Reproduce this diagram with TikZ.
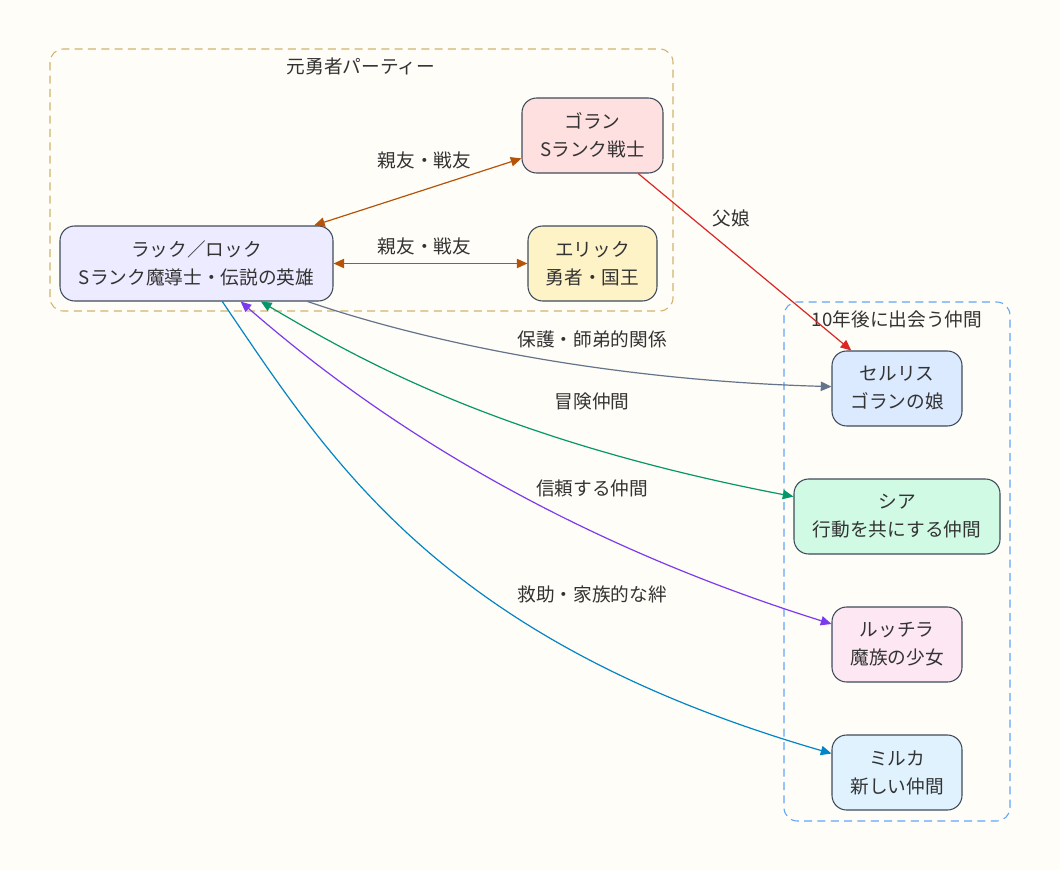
\documentclass[tikz,border=0pt]{standalone}
\usepackage{fontspec}
\setmainfont{Noto Sans CJK JP}
\usetikzlibrary{arrows.meta}
\definecolor{bg}{HTML}{FFFDF7}
\definecolor{nodeline}{HTML}{3F4B5B}
\definecolor{txt}{HTML}{333333}
\definecolor{cbrown}{HTML}{B45309}
\definecolor{cred}{HTML}{DC2626}
\definecolor{cslate}{HTML}{64748B}
\definecolor{cgreen}{HTML}{059669}
\definecolor{cpurple}{HTML}{7C3AED}
\definecolor{cblue}{HTML}{0284C7}
\definecolor{partyline}{HTML}{D2B26E}
\definecolor{futureline}{HTML}{60A5FA}
\definecolor{frack}{HTML}{ECEBFF}
\definecolor{fgoran}{HTML}{FFE0E1}
\definecolor{feric}{HTML}{FEF3C7}
\definecolor{fcellis}{HTML}{DBEAFE}
\definecolor{fsia}{HTML}{D1FAE5}
\definecolor{fruc}{HTML}{FCE7F3}
\definecolor{fmilka}{HTML}{E0F2FE}
\tikzset{
  person/.style={draw=nodeline, line width=0.8pt, rounded corners=11pt, align=center,
    minimum height=56.25pt, text=txt, font=\fontsize{14}{21}\selectfont, inner sep=0pt},
  cluster/.style={line width=0.8pt, dash pattern=on 6pt off 4pt, rounded corners=10pt},
  clabel/.style={text=txt, font=\fontsize{14}{21}\selectfont},
  elabel/.style={text=txt, font=\fontsize{14}{21}\selectfont},
  tip/.style={-{Triangle[length=8pt,width=7pt]}},
  bitip/.style={{Triangle[length=8pt,width=7pt]}-{Triangle[length=8pt,width=7pt]}},
  edge/.style={line width=0.9pt}
}
\begin{document}
\begin{tikzpicture}[x=0.75pt,y=-0.75pt]
\fill[bg] (0,0) rectangle (1060,870);
\useasboundingbox (0,0) rectangle (1060,870);
% clusters
\draw[cluster, draw=partyline] (50,49) rectangle (673,311);
\node[clabel] (partylbl) at (361,66) {元勇者パーティー};
\draw[cluster, draw=futureline] (784,302) rectangle (1010,821);
\node[clabel] (futurelbl) at (897,319) {10年後に出会う仲間};
% nodes
\node[person, fill=frack, minimum width=204.75pt] (rack) at (196.5,263.5) {ラック／ロック\\Sランク魔導士・伝説の英雄};
\node[person, fill=fgoran, minimum width=105.75pt] (goran) at (592.5,135.5) {ゴラン\\Sランク戦士};
\node[person, fill=feric, minimum width=96.75pt] (eric) at (592.5,263.5) {エリック\\勇者・国王};
\node[person, fill=fcellis, minimum width=97.5pt] (cellis) at (897,388.5) {セルリス\\ゴランの娘};
\node[person, fill=fsia, minimum width=154.5pt] (sia) at (897,516.5) {シア\\行動を共にする仲間};
\node[person, fill=fruc, minimum width=97.5pt] (ruc) at (897,644.5) {ルッチラ\\魔族の少女};
\node[person, fill=fmilka, minimum width=97.5pt] (milka) at (897,772.5) {ミルカ\\新しい仲間};
% edges
\draw[edge, bitip, draw=cbrown] (rack) -- (goran);
\draw[edge, bitip, draw=cbrown] (rack) -- (eric);
\draw[edge, tip, draw=cred] (goran) -- (cellis);
\draw[edge, tip, draw=cslate] (rack) .. controls (420,340) and (600,380) .. (cellis);
\draw[edge, bitip, draw=cgreen] (rack) .. controls (360,360) and (500,440) .. (sia);
\draw[edge, bitip, draw=cpurple] (rack) .. controls (320,370) and (500,520) .. (ruc);
\draw[edge, tip, draw=cblue] (rack) .. controls (330,460) and (440,640) .. (milka);
% edge labels
\node[elabel] (l1) at (424.5,160) {親友・戦友};
\node[elabel] (l2) at (424.5,246) {親友・戦友};
\node[elabel] (l3) at (731,218) {父娘};
\node[elabel] (l4) at (592,339) {保護・師弟的関係};
\node[elabel] (l5) at (592,401) {冒険仲間};
\node[elabel] (l6) at (592,488) {信頼する仲間};
\node[elabel] (l7) at (592,594) {救助・家族的な絆};
\end{tikzpicture}
\end{document}
